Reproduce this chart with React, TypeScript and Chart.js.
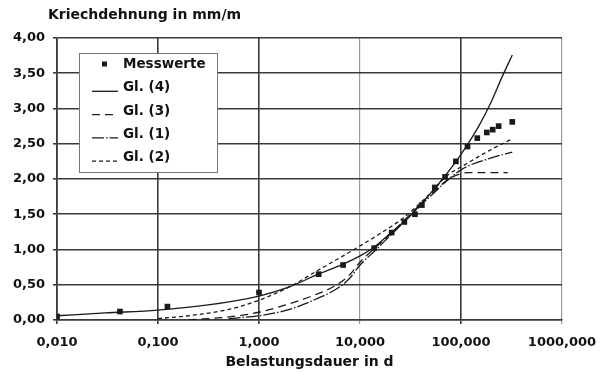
import React, { useEffect, useRef } from "react";
import { Chart, registerables } from "chart.js";

Chart.register(...registerables);

// ---- data ----
const xTickValues = [0.01, 0.1, 1, 10, 100, 1000];
const xTickLabels = ["0,010", "0,100", "1,000", "10,000", "100,000", "1000,000"];

const messX = [0.01, 0.042, 0.124, 1.0, 3.9, 6.8, 13.8, 20.6, 27.5, 35, 41, 55, 69.5, 89, 116, 145, 180, 206, 236, 322];
const messY = [0.05, 0.12, 0.19, 0.39, 0.65, 0.78, 1.02, 1.24, 1.39, 1.5, 1.63, 1.88, 2.03, 2.25, 2.46, 2.58, 2.66, 2.7, 2.75, 2.81];

const gl4X = [0.01, 0.03, 0.1, 0.3, 1, 2, 4, 7, 10, 14, 20, 30, 50, 70, 100, 150, 200, 250, 322];
const gl4Y = [0.06, 0.1, 0.14, 0.21, 0.34, 0.47, 0.66, 0.8, 0.91, 1.04, 1.23, 1.45, 1.8, 2.05, 2.35, 2.75, 3.1, 3.42, 3.76];

const gl3X = [0.2, 0.55, 1, 1.8, 3.2, 5.9, 8, 10, 14, 20, 30, 50, 80, 120, 290];
const gl3Y = [0.0, 0.05, 0.11, 0.21, 0.33, 0.5, 0.65, 0.82, 1.02, 1.22, 1.47, 1.78, 2.02, 2.09, 2.09];

const gl1X = [0.5, 1, 2, 4, 6, 8, 10, 14, 20, 30, 50, 100, 200, 322];
const gl1Y = [0.02, 0.06, 0.15, 0.32, 0.45, 0.6, 0.78, 0.98, 1.2, 1.45, 1.76, 2.13, 2.3, 2.38];

const gl2X = [0.1, 0.2, 0.5, 1, 2, 4, 7, 10, 16, 27, 50, 73, 100, 200, 322];
const gl2Y = [0.02, 0.06, 0.15, 0.28, 0.47, 0.72, 0.92, 1.05, 1.23, 1.45, 1.8, 2.05, 2.17, 2.42, 2.57];

const yTitle = "Kriechdehnung in mm/m";
const xTitle = "Belastungsdauer in d";
const legendOrder = ["Messwerte", "Gl. (4)", "Gl. (3)", "Gl. (1)", "Gl. (2)"];

const FONT = "'DejaVu Sans', sans-serif";
const INK = "#1a1a1a";
const GRID = "#3a3a3a";
const GRID_LIGHT = "#9a9a9a";

const toPts = (xs: number[], ys: number[]) => xs.map((x, i) => ({ x, y: ys[i] }));

const decorPlugin = {
  id: "decor",
  afterDraw(chart: any) {
    const ctx = chart.ctx;
    const area = chart.chartArea;
    ctx.save();
    // y-axis title at top-left
    ctx.fillStyle = "#111";
    ctx.font = `bold 14px ${FONT}`;
    ctx.textAlign = "left";
    ctx.textBaseline = "alphabetic";
    ctx.fillText(yTitle, area.left - 9, 19);

    // legend box
    const bx = 79, by = 53, bw = 138, bh = 119;
    ctx.fillStyle = "#fff";
    ctx.fillRect(bx, by, bw, bh);
    ctx.strokeStyle = "#777";
    ctx.lineWidth = 1;
    ctx.strokeRect(bx + 0.5, by + 0.5, bw, bh);

    const dsByLabel: Record<string, any> = {};
    chart.data.datasets.forEach((d: any) => (dsByLabel[d.label] = d));
    ctx.font = `bold 13.5px ${FONT}`;
    legendOrder.forEach((label, i) => {
      const ds = dsByLabel[label];
      const base = 68 + i * 23.3;
      const sx0 = 92, sx1 = 118;
      if (ds.showLine === false) {
        ctx.fillStyle = INK;
        ctx.fillRect(104.5 - 2.5, base - 4 - 2.5, 5, 5);
      } else {
        ctx.strokeStyle = ds.borderColor;
        ctx.lineWidth = ds.borderWidth;
        ctx.setLineDash(ds.borderDash || []);
        ctx.beginPath();
        ctx.moveTo(sx0, base);
        ctx.lineTo(sx1, base);
        ctx.stroke();
        ctx.setLineDash([]);
      }
      ctx.fillStyle = "#111";
      ctx.fillText(label, 123, base);
    });
    ctx.restore();
  },
};

export default function App() {
  const ref = useRef<HTMLCanvasElement | null>(null);

  useEffect(() => {
    if (!ref.current) return;
    const lineDs = (label: string, xs: number[], ys: number[], dash: number[]) => ({
      label,
      data: toPts(xs, ys),
      borderColor: INK,
      borderWidth: 1.3,
      borderDash: dash,
      pointRadius: 0,
      fill: false,
      showLine: true,
      cubicInterpolationMode: "monotone" as const,
    });
    const chart = new Chart(ref.current, {
      type: "scatter",
      data: {
        datasets: [
          lineDs("Gl. (4)", gl4X, gl4Y, []),
          lineDs("Gl. (3)", gl3X, gl3Y, [8, 5]),
          lineDs("Gl. (1)", gl1X, gl1Y, [12, 2, 1.5, 2]),
          lineDs("Gl. (2)", gl2X, gl2Y, [4, 3]),
          {
            label: "Messwerte",
            data: toPts(messX, messY),
            showLine: false,
            pointStyle: "rect",
            pointRadius: 4,
            backgroundColor: INK,
            borderColor: INK,
            borderWidth: 0,
          },
        ],
      },
      options: {
        responsive: false,
        maintainAspectRatio: false,
        animation: false,
        layout: { padding: { top: 38, right: 47, bottom: 0, left: 0 } },
        plugins: { legend: { display: false }, tooltip: { enabled: false } },
        scales: {
          x: {
            type: "logarithmic",
            min: 0.01,
            max: 1000,
            afterBuildTicks: (s: any) => {
              s.ticks = xTickValues.map((v) => ({ value: v }));
            },
            afterFit: (s: any) => {
              s.height = 54;
            },
            ticks: {
              autoSkip: false,
              maxRotation: 0,
              padding: 11,
              color: "#111",
              font: { family: FONT, size: 13, weight: "bold" },
              callback: (v: any) => {
                const i = xTickValues.findIndex((t) => Math.abs(t - Number(v)) < 1e-9 * Math.max(1, t));
                return i >= 0 ? xTickLabels[i] : "";
              },
            },
            grid: {
              color: (c: any) => (c.tick && (c.tick.value === 10 || c.tick.value === 1000) ? GRID_LIGHT : GRID),
              lineWidth: (c: any) => (c.tick && (c.tick.value === 10 || c.tick.value === 1000) ? 1.2 : 1.6),
              tickLength: 4,
            },
            border: { color: GRID, width: 1.6 },
            title: {
              display: true,
              text: xTitle,
              color: "#111",
              font: { family: FONT, size: 14, weight: "bold" },
              padding: { top: 0, bottom: 3 },
            },
          },
          y: {
            min: 0,
            max: 4,
            afterFit: (s: any) => {
              s.width = 57;
            },
            ticks: {
              stepSize: 0.5,
              padding: 8,
              color: "#111",
              font: { family: FONT, size: 13, weight: "bold" },
              callback: (v: any) => Number(v).toFixed(2).replace(".", ","),
            },
            grid: { color: GRID, lineWidth: 1.6, tickLength: 4 },
            border: { color: GRID, width: 1.6 },
          },
        },
      },
      plugins: [decorPlugin],
    });
    return () => chart.destroy();
  }, []);

  return (
    <div style={{ position: "fixed", left: 0, top: 0, width: 609, height: 374, background: "#fff" }}>
      <canvas ref={ref} width={609} height={374} style={{ display: "block", width: 609, height: 374 }} />
    </div>
  );
}
